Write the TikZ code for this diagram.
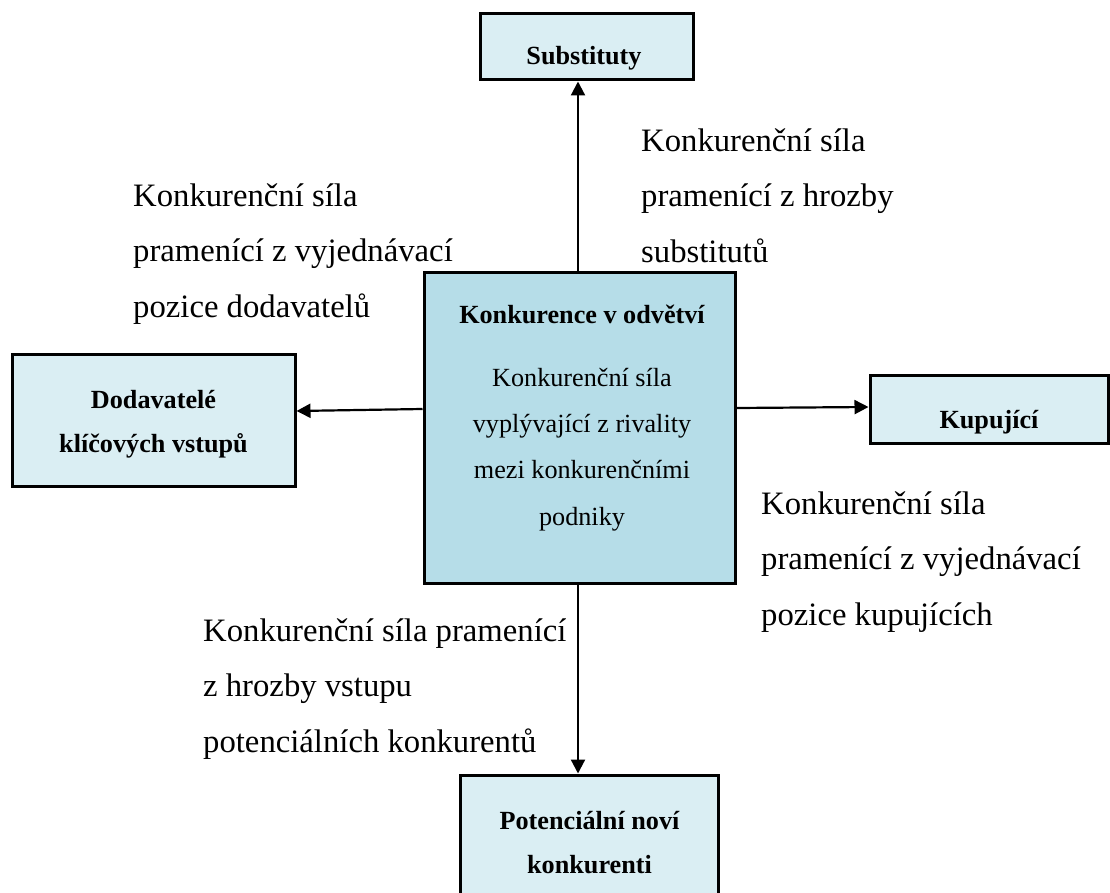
\documentclass[tikz,border=0pt]{standalone}
\usepackage{fontspec}
\setmainfont{Liberation Serif}
\usetikzlibrary{arrows.meta}
\definecolor{boxlight}{HTML}{DAEEF3}
\definecolor{boxmid}{HTML}{B6DDE8}
\begin{document}
\begin{tikzpicture}[x=1pt,y=-1pt,
  forcebox/.style={draw=black, line width=3pt, fill=boxlight, inner sep=0pt},
  boxhead/.style={font=\fontsize{26.2}{44}\selectfont\bfseries, align=center, anchor=base, inner sep=0pt},
  boxbody/.style={font=\fontsize{26.2}{46.3}\selectfont, align=center, anchor=base, inner sep=0pt},
  forcetext/.style={font=\fontsize{32.7}{55.5}\selectfont, align=left, anchor=base west, inner sep=0pt},
  flow/.style={line width=2.2pt, -{Triangle[length=14pt,width=14pt]}}]
\useasboundingbox (0,0) rectangle (1110,893);

% boxes
\node[forcebox, minimum width=213pt, minimum height=66pt] (sub) at (587,47) {};
\node[forcebox, minimum width=283pt, minimum height=132pt] (supp) at (153.5,420) {};
\node[forcebox, minimum width=238pt, minimum height=68pt] (buy) at (989,409) {};
\node[forcebox, minimum width=258pt, minimum height=134pt] (entr) at (589.5,842) {};
\node[forcebox, fill=boxmid, minimum width=311pt, minimum height=311pt] (rival) at (579.5,427.5) {};

% box captions (a multi-line node sits on the baseline of its last line)
\node[boxhead] (subT) at (584,65) {Substituty};
\node[boxhead] (suppT) at (153.5,452) {Dodavatelé\\klíčových vstupů};
\node[boxhead] (buyT) at (989,428) {Kupující};
\node[boxhead] (entrT) at (589.5,873) {Potenciální noví\\konkurenti};
\node[boxhead] (rivalT) at (582,323) {Konkurence v odvětví};
\node[boxbody] (rivalB) at (582,525) {Konkurenční síla\\vyplývající z rivality\\mezi konkurenčními\\podniky};

% descriptions of the forces
\node[forcetext] (fSupp) at (133,317) {Konkurenční síla\\pramenící z vyjednávací\\pozice dodavatelů};
\node[forcetext] (fSub) at (641,262) {Konkurenční síla\\pramenící z hrozby\\substitutů};
\node[forcetext] (fBuy) at (761,625) {Konkurenční síla\\pramenící z vyjednávací\\pozice kupujících};
\node[forcetext] (fEntr) at (203,752) {Konkurenční síla pramenící\\z hrozby vstupu\\potenciálních konkurentů};

% arrows out of the central box
\draw[flow] ([xshift=-1.5pt]rival.north) -- ([xshift=-1.5pt]rival.north |- sub.south);
\draw[flow] ([yshift=18.5pt]rival.west) -- ([yshift=9pt]supp.east);
\draw[flow] ([yshift=19.5pt]rival.east) -- ([yshift=2pt]buy.west);
\draw[flow] ([xshift=-1.5pt]rival.south) -- ([xshift=-1.5pt]rival.south |- entr.north);
\end{tikzpicture}
\end{document}
